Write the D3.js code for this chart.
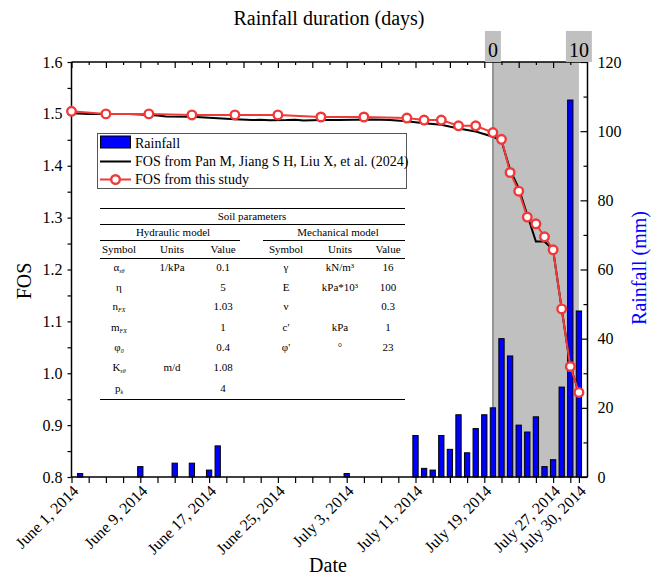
<!DOCTYPE html>
<html><head><meta charset="utf-8">
<script src="https://cdn.jsdelivr.net/npm/d3@7"></script>
<style>body{margin:0;background:#fff}svg{display:block}text{font-family:"Liberation Serif","Times New Roman",serif}</style>
</head><body><svg id="c" width="656" height="577"></svg>
<script>
// ---- data ----
const rainDates = ["2014-06-02","2014-06-09","2014-06-13","2014-06-15","2014-06-17","2014-06-18","2014-07-03",
 "2014-07-11","2014-07-12","2014-07-13","2014-07-14","2014-07-15","2014-07-16","2014-07-17","2014-07-18","2014-07-19","2014-07-20",
 "2014-07-21","2014-07-22","2014-07-23","2014-07-24","2014-07-25","2014-07-26","2014-07-27","2014-07-28","2014-07-29","2014-07-30"];
const rainValues = [1,3,4,4,2,9,1, 12,2.5,2,12,8,18,7,14,18,20, 40,35,15,13,17.4,3,5,26,109,48];

const panDates = ["2014-06-01","2014-06-03","2014-06-05","2014-06-07","2014-06-09","2014-06-11","2014-06-12","2014-06-15","2014-06-17","2014-06-20",
 "2014-06-22","2014-06-23","2014-06-24","2014-06-26","2014-06-27","2014-06-28","2014-06-30","2014-07-02","2014-07-04","2014-07-06","2014-07-08","2014-07-10",
 "2014-07-12","2014-07-14","2014-07-16","2014-07-18","2014-07-20","2014-07-21","2014-07-22","2014-07-23","2014-07-24","2014-07-25","2014-07-26","2014-07-27","2014-07-28","2014-07-29","2014-07-30"];
const panFOS = [1.501,1.500,1.500,1.500,1.499,1.497,1.495,1.4945,1.4925,1.4895,
 1.488,1.4888,1.4875,1.488,1.4888,1.4872,1.488,1.488,1.4885,1.489,1.488,1.486,
 1.482,1.479,1.472,1.466,1.456,1.448,1.392,1.357,1.305,1.254,1.254,1.238,1.124,1.013,0.963];

const studyDates = ["2014-06-01","2014-06-05","2014-06-10","2014-06-15","2014-06-20","2014-06-25","2014-06-30","2014-07-05","2014-07-10","2014-07-12",
 "2014-07-14","2014-07-16","2014-07-18","2014-07-20","2014-07-21","2014-07-22","2014-07-23","2014-07-24","2014-07-25","2014-07-26","2014-07-27","2014-07-28","2014-07-29","2014-07-30"];
const studyFOS = [1.505,1.500,1.500,1.498,1.498,1.498,1.494,1.494,1.492,1.488,
 1.488,1.477,1.477,1.464,1.451,1.387,1.351,1.301,1.288,1.263,1.238,1.124,1.013,0.963];

const dateTickLabels = ["June 1, 2014","June 9, 2014","June 17, 2014","June 25, 2014","July 3, 2014","July 11, 2014","July 19, 2014","July 27, 2014","July 30, 2014"];
const dateTickValues = ["2014-06-01","2014-06-09","2014-06-17","2014-06-25","2014-07-03","2014-07-11","2014-07-19","2014-07-27","2014-07-30"];
const fosTicks = [0.8,0.9,1.0,1.1,1.2,1.3,1.4,1.5,1.6];
const rainTicks = [0,20,40,60,80,100,120];
const durationLabels = ["0","10"];
const durationDates = ["2014-07-20","2014-07-30"];

const hydraulicRows = [
 {sym:"α", sub:"sθ", unit:"1/kPa", val:"0.1"},
 {sym:"η", sub:"", unit:"", val:"5"},
 {sym:"n", sub:"FX", unit:"", val:"1.03"},
 {sym:"m", sub:"FX", unit:"", val:"1"},
 {sym:"φ", sub:"0", unit:"", val:"0.4"},
 {sym:"K", sub:"sθ", unit:"m/d", val:"1.08"},
 {sym:"p", sub:"k", unit:"", val:"4"}];
const mechanicalRows = [
 {sym:"γ", unit:"kN/m³", val:"16"},
 {sym:"E", unit:"kPa*10³", val:"100"},
 {sym:"ν", unit:"", val:"0.3"},
 {sym:"c'", unit:"kPa", val:"1"},
 {sym:"φ'", unit:"°", val:"23"}];

// ---- chart ----
const P = d3.utcParse("%Y-%m-%d");
const svg = d3.select("#c");
const L=71.5, R=587.5, T=62, B=477;
const x = d3.scaleUtc().domain([P("2014-06-01"), P("2014-07-31")]).range([L,R]);
const y = d3.scaleLinear().domain([0.8,1.6]).range([B,T]);
const yr = d3.scaleLinear().domain([0,120]).range([B,T]);

// shaded rainfall period
svg.append("rect").attr("x", x(P(durationDates[0]))).attr("y", T)
  .attr("width", x(P(durationDates[1])) - x(P(durationDates[0]))).attr("height", B-T)
  .attr("fill", "#c0c0c0");
svg.append("line").attr("x1", x(P(durationDates[0]))).attr("x2", x(P(durationDates[0])))
  .attr("y1", T).attr("y2", B).attr("stroke", "#808080").attr("stroke-width", 1.5);

// bars
const bw = 5.3;
svg.append("g").selectAll("rect").data(rainDates.map((d,i)=>({d:P(d), v:rainValues[i]}))).join("rect")
  .attr("x", d=>x(d.d)-bw/2).attr("y", d=>yr(d.v)).attr("width", bw).attr("height", d=>B-yr(d.v))
  .attr("fill", "#0000ff").attr("stroke", "#000").attr("stroke-width", 1);

// axes
const every2 = d3.utcDay.every(2).range(P("2014-06-01"), P("2014-07-31"));
// bottom
const gb = svg.append("g").attr("transform", `translate(0,${B})`)
  .call(d3.axisBottom(x).tickValues(every2.concat([P("2014-07-30")])).tickSize(6).tickFormat(""));
gb.select(".domain").attr("d", `M${L},0H${R}`).attr("stroke-width", 1.5);
gb.selectAll(".tick line").attr("stroke-width", 1.2);
svg.append("g").selectAll("text").data(dateTickValues).join("text")
  .attr("transform", d=>`translate(${x(P(d))+8},${B+15}) rotate(-45)`)
  .attr("text-anchor", "end").attr("font-size", 16).text((d,i)=>dateTickLabels[i]);
// top
const gt = svg.append("g").attr("transform", `translate(0,${T})`)
  .call(d3.axisTop(x).tickValues(every2).tickSize(-3).tickFormat(""));
gt.select(".domain").attr("d", `M${L},0H${R}`).attr("stroke-width", 1.5);
gt.selectAll(".tick line").attr("y2", (d,i)=> i%2===0 ? 6 : 3).attr("stroke-width", 1.2);
// left
const gl = svg.append("g").attr("transform", `translate(${L},0)`)
  .call(d3.axisLeft(y).tickValues(d3.range(0.8,1.6001,0.05)).tickSize(4).tickFormat(""));
gl.select(".domain").attr("d", `M0,${T}V${B}`).attr("stroke-width", 1.5);
gl.selectAll(".tick line").attr("stroke-width", 1.2);
svg.append("g").selectAll("text").data(fosTicks).join("text")
  .attr("x", L-9).attr("y", d=>y(d)).attr("dy", "0.35em").attr("text-anchor", "end")
  .attr("font-size", 16).text(d=>d.toFixed(1));
// right
const gr = svg.append("g").attr("transform", `translate(${R},0)`)
  .call(d3.axisRight(yr).tickValues(d3.range(0,121,10)).tickSize(-4).tickFormat(""));
gr.select(".domain").attr("d", `M0,${T}V${B}`).attr("stroke-width", 1.5);
gr.selectAll(".tick line").attr("x2", d=> d%20===0 ? -7 : -4).attr("stroke-width", 1.2);
svg.append("g").selectAll("text").data(rainTicks).join("text")
  .attr("x", R+10).attr("y", d=>yr(d)).attr("dy", "0.35em").attr("text-anchor", "start")
  .attr("font-size", 16).text(d=>d);

// top duration labels with gray boxes
durationLabels.forEach((lab,i)=>{
  const cx = x(P(durationDates[i]));
  const w = lab.length*10 + 6;
  svg.append("rect").attr("x", cx-w/2).attr("y", 31).attr("width", w).attr("height", T-31).attr("fill", "#c0c0c0");
  svg.append("text").attr("x", cx).attr("y", 57).attr("text-anchor", "middle").attr("font-size", 20).text(lab);
});

// lines
const lineGen = d3.line().x(d=>x(d.d)).y(d=>y(d.v));
const panData = panDates.map((d,i)=>({d:P(d), v:panFOS[i]}));
const stData = studyDates.map((d,i)=>({d:P(d), v:studyFOS[i]}));
svg.append("path").datum(panData).attr("d", lineGen).attr("fill", "none").attr("stroke", "#000").attr("stroke-width", 2);
svg.append("path").datum(stData).attr("d", lineGen).attr("fill", "none").attr("stroke", "#f03a3a").attr("stroke-width", 2);
svg.append("g").selectAll("circle").data(stData).join("circle")
  .attr("cx", d=>x(d.d)).attr("cy", d=>y(d.v)).attr("r", 4.3)
  .attr("fill", "#fff").attr("stroke", "#f03a3a").attr("stroke-width", 2.4);

// axis titles
svg.append("text").attr("x", 329).attr("y", 25).attr("text-anchor", "middle").attr("font-size", 20).text("Rainfall duration (days)");
svg.append("text").attr("x", 328).attr("y", 572).attr("text-anchor", "middle").attr("font-size", 20).text("Date");
svg.append("text").attr("transform", "translate(31,281) rotate(-90)").attr("text-anchor", "middle").attr("font-size", 20).text("FOS");
svg.append("text").attr("transform", "translate(646,268) rotate(-90)").attr("text-anchor", "middle").attr("font-size", 20).attr("fill", "#0000ff").text("Rainfall (mm)");

// legend
const lg = svg.append("g");
lg.append("rect").attr("x", 97.5).attr("y", 133.5).attr("width", 309).attr("height", 55).attr("fill", "#fff").attr("stroke", "#555").attr("stroke-width", 1);
lg.append("rect").attr("x", 100.5).attr("y", 136).attr("width", 30).attr("height", 12).attr("fill", "#0000ff").attr("stroke", "#000");
lg.append("text").attr("x", 135).attr("y", 147.5).attr("font-size", 14).text("Rainfall");
lg.append("line").attr("x1", 100).attr("x2", 131).attr("y1", 161.5).attr("y2", 161.5).attr("stroke", "#000").attr("stroke-width", 2);
lg.append("text").attr("x", 135).attr("y", 166).attr("font-size", 14).text("FOS from Pan M, Jiang S H, Liu X, et al. (2024)");
lg.append("line").attr("x1", 100).attr("x2", 131).attr("y1", 179.5).attr("y2", 179.5).attr("stroke", "#f03a3a").attr("stroke-width", 2);
lg.append("circle").attr("cx", 115.5).attr("cy", 179.5).attr("r", 4.3).attr("fill", "#fff").attr("stroke", "#f03a3a").attr("stroke-width", 2.4);
lg.append("text").attr("x", 135).attr("y", 184).attr("font-size", 14).text("FOS from this study");

// table
const tb = svg.append("g").attr("font-size", 11);
const rule = (x1,x2,yy,w)=>tb.append("line").attr("x1",x1).attr("x2",x2).attr("y1",yy).attr("y2",yy).attr("stroke","#000").attr("stroke-width",w||1);
rule(100,405,208.5,1.2);
rule(100,405,224.5);
rule(100,240,240.5);
rule(263,405,240.5);
rule(100,405,258.5);
rule(100,405,399.5,1.2);
const tt = (xx,yy,s)=>tb.append("text").attr("x",xx).attr("y",yy).attr("text-anchor","middle").text(s);
tt(252,220,"Soil parameters");
tt(173,236,"Hydraulic model");
tt(338,236,"Mechanical model");
[["Symbol",119],["Units",172],["Value",223],["Symbol",286],["Units",340],["Value",388]].forEach(([s,xx])=>tt(xx,253,s));
const rowY = [271,291,310,331,351,371,392];
hydraulicRows.forEach((r,i)=>{
  const t = tb.append("text").attr("x",119).attr("y",rowY[i]).attr("text-anchor","middle");
  t.append("tspan").text(r.sym);
  if (r.sub) t.append("tspan").attr("font-size",6).attr("font-style","italic").attr("dy",2).text(r.sub);
  tt(172,rowY[i],r.unit);
  tt(223,rowY[i],r.val);
});
mechanicalRows.forEach((r,i)=>{
  tt(286,rowY[i],r.sym);
  tt(340,rowY[i],r.unit);
  tt(388,rowY[i],r.val);
});
</script></body></html>
